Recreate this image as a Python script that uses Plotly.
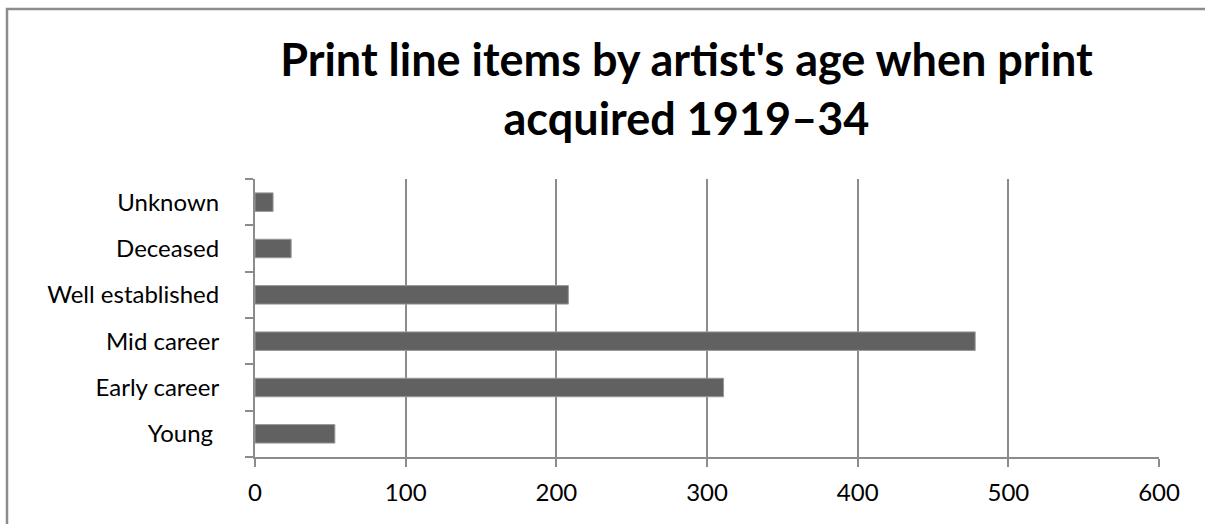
import plotly.graph_objects as go

categories = ["Young\u00a0", "Early career", "Mid career", "Well established", "Deceased", "Unknown"]
values = [53, 311, 478, 208, 24, 12]
x_ticks = [0, 100, 200, 300, 400, 500, 600]
title_text = "Print line items by artist's age when print<br>acquired 1919–34"

W, H = 1205, 524
L, R, T, B = 255, 46, 179, 67
pw = W - L - R
ph = H - T - B

grey = "#8c8c8c"

fig = go.Figure(go.Bar(
    x=values, y=categories, orientation="h",
    marker=dict(color="#616161", line=dict(color="#9a9a9a", width=1)),
    width=0.4,
))

fig.update_layout(
    width=W, height=H,
    margin=dict(l=L, r=R, t=T, b=B, pad=0),
    paper_bgcolor="white", plot_bgcolor="white",
    showlegend=False,
    title=dict(text=title_text, x=686.5 / W, xanchor="center",
               y=1 - 76 / H, yanchor="top", yref="container",
               font=dict(family="Lato", size=45, color="black", weight="bold")),
    font=dict(family="Lato", color="black"),
    xaxis=dict(range=[0, 600], tickvals=x_ticks, ticktext=[str(v) for v in x_ticks],
               showgrid=True, gridcolor=grey, gridwidth=2,
               showline=True, linecolor=grey, linewidth=2,
               ticks="outside", ticklen=8, tickcolor=grey, tickwidth=2,
               ticklabelstandoff=5,
               zeroline=False, tickfont=dict(size=24, family="Lato", color="black"),
               fixedrange=True),
    yaxis=dict(showgrid=False, showline=True, linecolor=grey, linewidth=2,
               ticks="outside", ticklen=8, tickcolor=grey, tickwidth=2,
               tickson="boundaries", ticklabelstandoff=29,
               tickfont=dict(size=24, family="Lato", color="black"),
               fixedrange=True),
    shapes=[dict(type="rect", xref="paper", yref="paper",
                 x0=(7 - L) / pw, x1=(W + 50 - L) / pw,
                 y0=-(B + 50) / ph, y1=(H - B - 9) / ph,
                 line=dict(color=grey, width=2.5), fillcolor="rgba(0,0,0,0)", layer="below")],
)

fig.write_html("out.html")
